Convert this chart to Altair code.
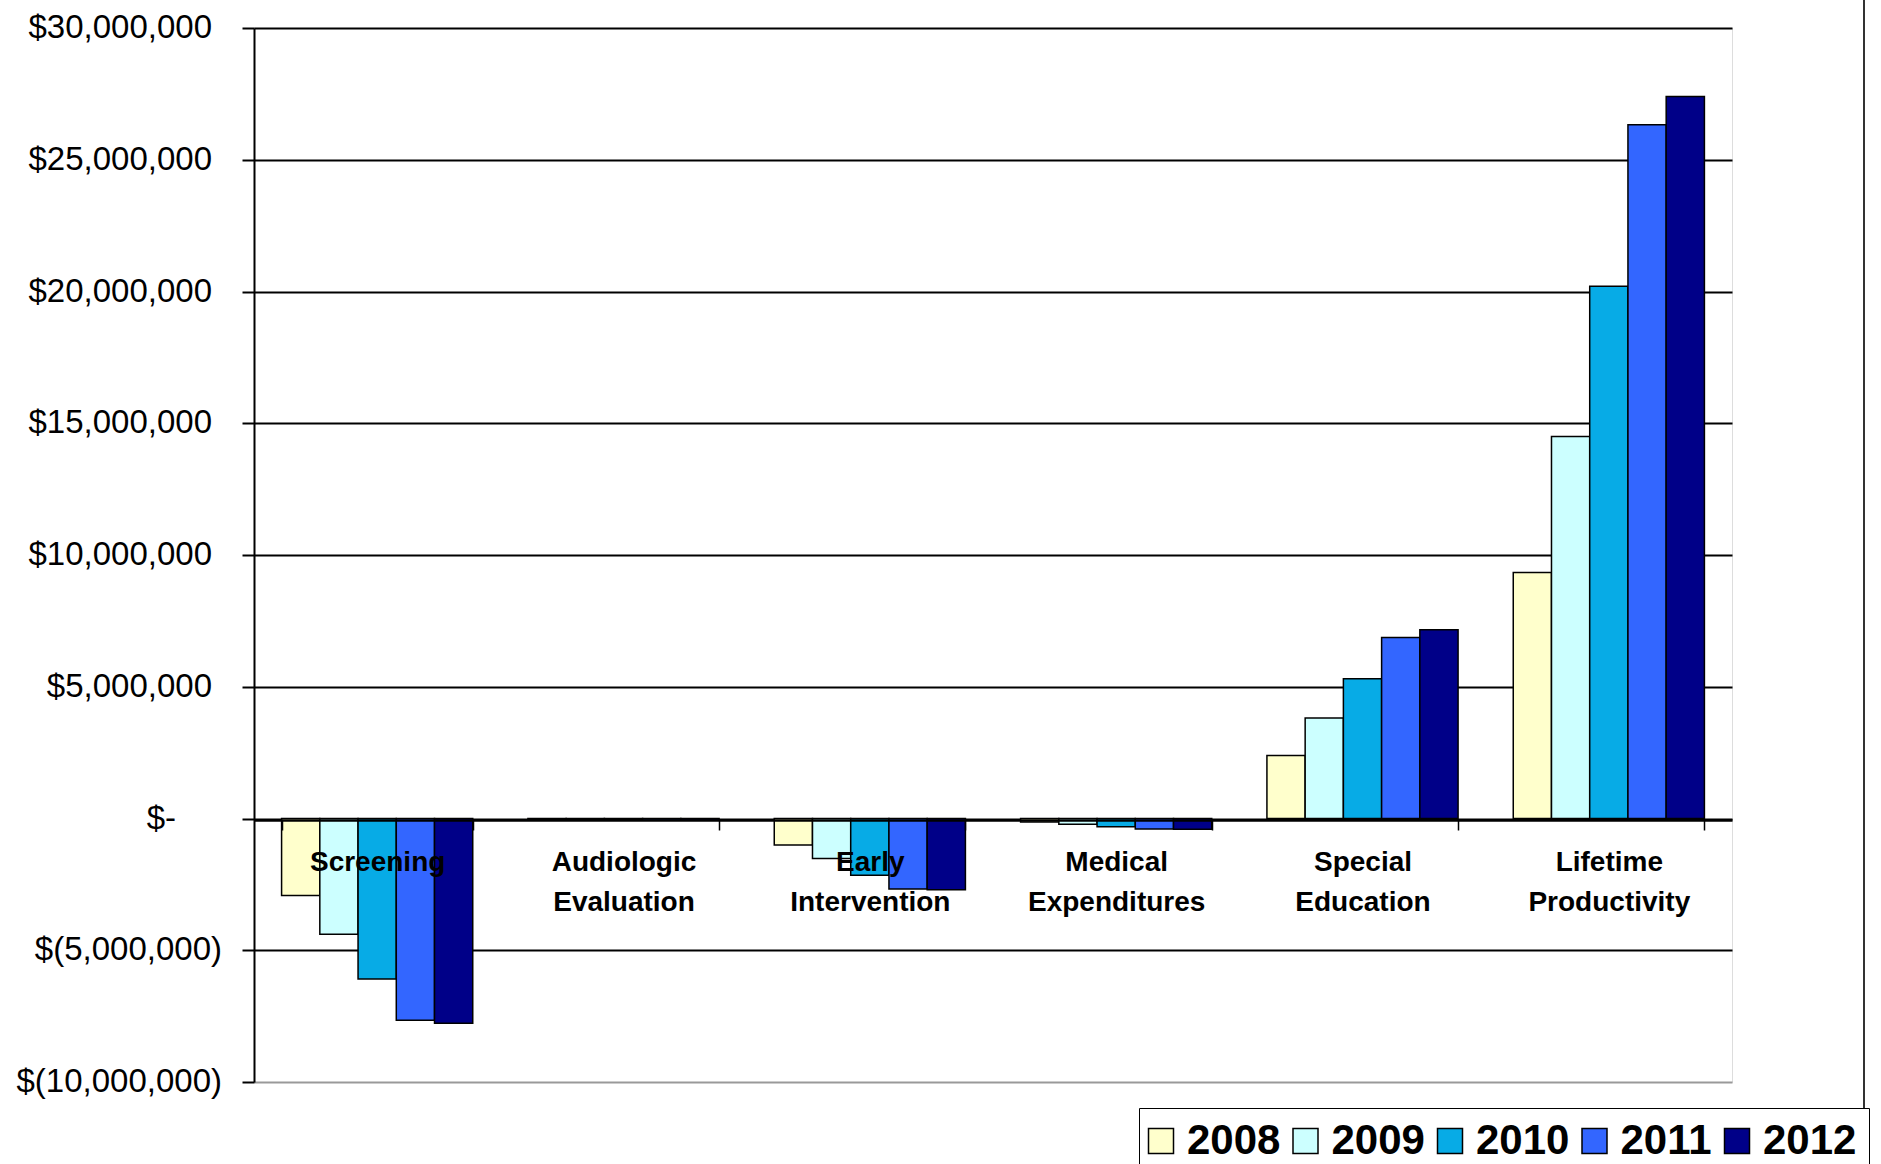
import altair as alt
import pandas as pd

# Net savings by cost category and program year (US dollars)
categories = [
    "Screening",
    "Audiologic Evaluation",
    "Early Intervention",
    "Medical Expenditures",
    "Special Education",
    "Lifetime Productivity",
]
years = ["2008", "2009", "2010", "2011", "2012"]

values = {
    "2008": [-2920000, -40000, -1010000, -130000, 2390000, 9340000],
    "2009": [-4390000, -50000, -1520000, -220000, 3810000, 14500000],
    "2010": [-6090000, -60000, -2150000, -310000, 5300000, 20200000],
    "2011": [-7660000, -70000, -2680000, -400000, 6870000, 26330000],
    "2012": [-7770000, -70000, -2700000, -410000, 7160000, 27400000],
}
year_colors = ["#FFFFCC", "#CCFFFF", "#07ABE6", "#3366FF", "#000088"]

# Accounting-style tick labels for the value axis
y_ticks = [-10000000, -5000000, 0, 5000000, 10000000, 15000000,
           20000000, 25000000, 30000000]
y_tick_labels = ["$(10,000,000)", "$(5,000,000)", "$-", "$5,000,000",
                 "$10,000,000", "$15,000,000", "$20,000,000", "$25,000,000",
                 "$30,000,000"]

rows = []
for yr in years:
    for cat, v in zip(categories, values[yr]):
        rows.append({"Category": cat, "Year": yr, "Savings": v})
df = pd.DataFrame(rows)
ticks_df = pd.DataFrame({"Savings": y_ticks, "Label": y_tick_labels})

FONT = "Liberation Sans"
PLOT_W, PLOT_H = 1478, 1054
y_scale = alt.Scale(domain=[-10000000, 30000000], nice=False)

bars = alt.Chart(df).mark_bar(stroke="black", strokeWidth=1.5).encode(
    x=alt.X(
        "Category:N",
        sort=categories,
        scale=alt.Scale(paddingInner=0.224, paddingOuter=0.112),
        axis=alt.Axis(
            title=None,
            orient="bottom",
            offset=-262,
            zindex=1,
            domainColor="black",
            domainWidth=2.5,
            tickBand="extent",
            tickSize=10,
            tickColor="black",
            tickWidth=1.5,
            labelAngle=0,
            labelExpr="split(datum.label, ' ')",
            labelFont=FONT,
            labelFontSize=28,
            labelFontWeight="bold",
            labelColor="black",
            labelLineHeight=40,
            labelPadding=18,
            labelLimit=400,
        ),
    ),
    xOffset=alt.XOffset("Year:N", sort=years,
                        scale=alt.Scale(paddingInner=0, paddingOuter=0)),
    y=alt.Y(
        "Savings:Q",
        scale=y_scale,
        axis=alt.Axis(
            title=None,
            values=y_ticks,
            zindex=0,
            grid=True,
            gridColor={"condition": {"test": "datum.value == -10000000",
                                     "value": "#999999"},
                       "value": "black"},
            gridWidth=2,
            domainColor="black",
            domainWidth=2,
            tickColor="black",
            tickSize=12,
            tickWidth=2,
            labels=False,
        ),
    ),
    color=alt.Color(
        "Year:N",
        sort=years,
        scale=alt.Scale(domain=years, range=year_colors),
        legend=alt.Legend(
            title=None,
            orient="none",
            direction="horizontal",
            legendX=885,
            legendY=1080,
            symbolType="square",
            symbolSize=625,
            symbolStrokeColor="black",
            symbolStrokeWidth=1.5,
            symbolOpacity=1,
            symbolOffset={"expr": "-11"},
            labelFont=FONT,
            labelFontSize=42,
            labelFontWeight="bold",
            labelColor="black",
            labelOffset=5,
            columnPadding=8.5,
            padding=12,
            strokeColor="black",
            fillColor="white",
        ),
    ),
)


def tick_text(test, x_px):
    """Right-aligned value-axis labels for one group of ticks."""
    return alt.Chart(ticks_df).transform_filter(test).mark_text(
        align="right", baseline="middle", font=FONT, fontSize=33,
        color="black",
    ).encode(
        x=alt.value(x_px),
        y=alt.Y("Savings:Q", scale=y_scale),
        text="Label:N",
    )


neg_labels = tick_text("datum.Savings < 0", -32)
pos_labels = tick_text("datum.Savings > 0", -42)
zero_label = tick_text("datum.Savings == 0", -78)

# right edge of the chart area frame
frame = alt.Chart(pd.DataFrame({"edge": [0]})).mark_rule(
    color="#333333", strokeWidth=2
).encode(
    x=alt.value(1610),
    y=alt.value(-28),
    y2=alt.value(1140),
)

chart = alt.layer(bars, neg_labels, pos_labels, zero_label, frame).properties(
    width=PLOT_W,
    height=PLOT_H,
    autosize=alt.AutoSizeParams(type="none"),
    padding={"left": 254, "top": 28, "right": 149, "bottom": 82},
    background="white",
).configure_view(
    stroke="#999999",
    strokeWidth=2,
).configure_legend(
    strokeWidth=2,
).configure(font=FONT)

chart.save("out.html", embed_options={"renderer": "svg", "actions": False})
